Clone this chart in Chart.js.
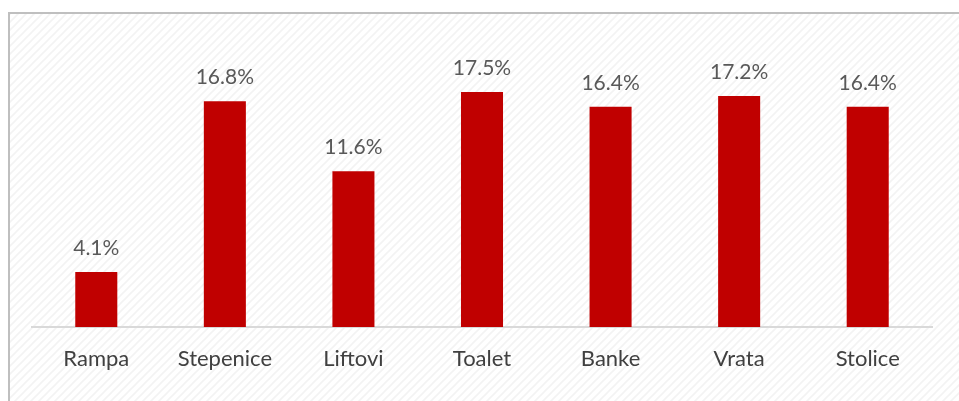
<!DOCTYPE html>
<html>
<head>
<meta charset="utf-8">
<script src="https://cdn.jsdelivr.net/npm/chart.js@4"></script>
<style>
  html, body { margin: 0; padding: 0; background: #fff; }
  #wrap { position: relative; width: 959px; height: 401px; }
</style>
</head>
<body>
<div id="wrap"><canvas id="chart" width="959" height="401"></canvas></div>
<script>
const categories = ['Rampa', 'Stepenice', 'Liftovi', 'Toalet', 'Banke', 'Vrata', 'Stolice'];
const values = [4.1, 16.8, 11.6, 17.5, 16.4, 17.2, 16.4];

// light upward-diagonal hatch like the Excel plot fill
function makeHatch(ctx) {
  const p = document.createElement('canvas');
  p.width = 8; p.height = 8;
  const c = p.getContext('2d');
  c.strokeStyle = '#f3f3f3';
  c.lineWidth = 1.6;
  c.beginPath();
  c.moveTo(0, 8); c.lineTo(8, 0);
  c.moveTo(-4, 4); c.lineTo(4, -4);
  c.moveTo(4, 12); c.lineTo(12, 4);
  c.stroke();
  return ctx.createPattern(p, 'repeat');
}

const frame = {
  id: 'frame',
  beforeDraw(chart) {
    const ctx = chart.ctx;
    ctx.save();
    ctx.fillStyle = makeHatch(ctx);
    ctx.fillRect(9, 13, 959, 401);
    ctx.strokeStyle = '#bfbfbf';
    ctx.lineWidth = 2;
    ctx.beginPath();
    ctx.moveTo(9, 401);
    ctx.lineTo(9, 13);
    ctx.lineTo(959, 13);
    ctx.stroke();
    ctx.restore();
  }
};

const valueLabels = {
  id: 'valueLabels',
  afterDatasetsDraw(chart) {
    const ctx = chart.ctx;
    ctx.save();
    ctx.font = '21px Lato, "Open Sans", sans-serif';
    ctx.fillStyle = '#595959';
    ctx.textAlign = 'center';
    ctx.textBaseline = 'alphabetic';
    chart.getDatasetMeta(0).data.forEach((bar, i) => {
      ctx.fillText(values[i].toFixed(1) + '%', bar.x, bar.y - 17);
    });
    ctx.restore();
  }
};

new Chart(document.getElementById('chart'), {
  type: 'bar',
  data: {
    labels: categories,
    datasets: [{
      data: values,
      backgroundColor: '#c00000',
      categoryPercentage: 1,
      barPercentage: 0.327
    }]
  },
  options: {
    responsive: false,
    animation: false,
    devicePixelRatio: 1,
    layout: { padding: { left: 32, right: 27, top: 31.5, bottom: 0 } },
    plugins: { legend: { display: false }, tooltip: { enabled: false } },
    scales: {
      x: {
        grid: { display: false },
        border: { display: true, color: '#d9d9d9', width: 2 },
        ticks: {
          color: '#404040',
          padding: 11,
          font: { size: 22, family: 'Lato, "Open Sans", sans-serif' }
        },
        afterFit(scale) { scale.height = 74; }
      },
      y: {
        display: false,
        min: 0,
        max: 22
      }
    }
  },
  plugins: [frame, valueLabels]
});
</script>
</body>
</html>
